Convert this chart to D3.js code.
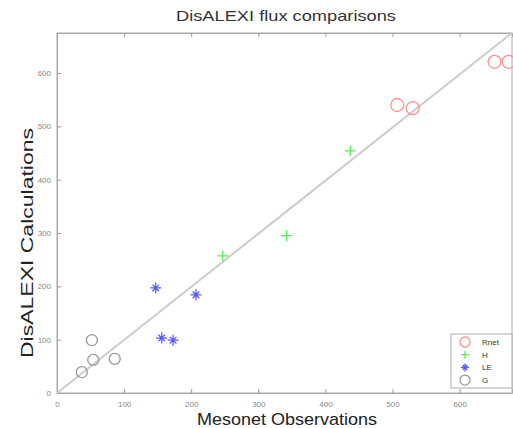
<!DOCTYPE html>
<html>
<head>
<meta charset="utf-8">
<title>DisALEXI flux comparisons</title>
<script src="https://d3js.org/d3.v7.min.js"></script>
<style>
  body { margin: 0; background: #fff; }
  text { font-family: "Liberation Sans", Arial, sans-serif; }
</style>
</head>
<body>
<svg id="chart" width="513" height="428"></svg>
<script>
// values (W/m2)
const rnetObs = [507, 530, 652, 673];
const rnetCalc = [540, 534, 621, 621];
const hObs = [247, 342, 437];
const hCalc = [257, 295, 454];
const leObs = [147, 207, 156, 173];
const leCalc = [197, 184, 103, 99];
const gObs = [52, 54, 37, 86];
const gCalc = [99, 62, 39, 64];
const tickVals = [0, 100, 200, 300, 400, 500, 600];
const legendNames = ["Rnet", "H", "LE", "G"];

const svg = d3.select("#chart");
const mLeft = 57, mRight = 512, mTop = 33, mBottom = 393;

const x = d3.scaleLinear().domain([0, 678]).range([mLeft, mRight]);
const y = d3.scaleLinear().domain([0, 675]).range([mBottom, mTop]);

// title
svg.append("text")
  .attr("x", 286).attr("y", 21)
  .attr("text-anchor", "middle")
  .attr("font-size", "15px").attr("fill", "#333")
  .attr("textLength", 220).attr("lengthAdjust", "spacingAndGlyphs")
  .text("DisALEXI flux comparisons");

// box
svg.append("rect")
  .attr("x", mLeft).attr("y", mTop)
  .attr("width", mRight - mLeft).attr("height", mBottom - mTop)
  .attr("fill", "none").attr("stroke", "#aaa");

// axes, matlab style ticks pointing in
const xAxis = d3.axisBottom(x).tickValues(tickVals).tickSize(-4).tickPadding(8);
const yAxis = d3.axisLeft(y).tickValues(tickVals).tickSize(-4).tickPadding(6);

svg.append("g").attr("transform", `translate(0,${mBottom})`).call(xAxis);
svg.append("g").attr("transform", `translate(${mLeft},0)`).call(yAxis);
svg.append("g").attr("transform", `translate(0,${mTop})`)
  .call(d3.axisTop(x).tickValues(tickVals).tickSize(-4).tickFormat(""));

svg.selectAll(".domain").attr("stroke", "#aaa");
svg.selectAll(".tick line").attr("stroke", "#999");
svg.selectAll(".tick text").attr("fill", "#888").attr("font-size", "8px");

// 1:1 line
svg.append("line")
  .attr("x1", x(0)).attr("y1", y(0))
  .attr("x2", x(678)).attr("y2", y(675))
  .attr("stroke", "#ccc").attr("stroke-width", 2);

// axis labels
svg.append("text")
  .attr("x", 287).attr("y", 425)
  .attr("text-anchor", "middle")
  .attr("font-size", "17px").attr("fill", "#222")
  .attr("textLength", 180).attr("lengthAdjust", "spacingAndGlyphs")
  .text("Mesonet Observations");

svg.append("text")
  .attr("transform", "translate(33,243) rotate(-90)")
  .attr("text-anchor", "middle")
  .attr("font-size", "17px").attr("fill", "#222")
  .attr("textLength", 230).attr("lengthAdjust", "spacingAndGlyphs")
  .text("DisALEXI Calculations");

// marker drawing
const red = "#ff9090", green = "#55ee55", blue = "#5a5aff", grey = "#999";

function circles(g, xs, ys, col, r) {
  g.selectAll(null).data(xs).enter().append("circle")
    .attr("cx", d => x(d)).attr("cy", (d, i) => y(ys[i]))
    .attr("r", r).attr("fill", "none").attr("stroke", col).attr("stroke-width", 1.3);
}
function plus(g, px, py, col, s) {
  g.append("path")
    .attr("d", `M${px - s},${py}H${px + s}M${px},${py - s}V${py + s}`)
    .attr("stroke", col).attr("stroke-width", 1.3).attr("fill", "none");
}
function star(g, px, py, col, s) {
  const d = s * 0.6;
  g.append("path")
    .attr("d", `M${px - s},${py}H${px + s}M${px},${py - s}V${py + s}` +
      `M${px - d},${py - d}L${px + d},${py + d}M${px - d},${py + d}L${px + d},${py - d}`)
    .attr("stroke", col).attr("stroke-width", 1.3).attr("fill", "none");
}

const marks = svg.append("g");
circles(marks, rnetObs, rnetCalc, red, 6.5);
hObs.forEach((d, i) => plus(marks, x(d), y(hCalc[i]), green, 5.5));
leObs.forEach((d, i) => star(marks, x(d), y(leCalc[i]), blue, 5.5));
circles(marks, gObs, gCalc, grey, 5.5);

// legend
const lg = svg.append("g");
lg.append("rect")
  .attr("x", 451).attr("y", 334).attr("width", 61).attr("height", 54)
  .attr("fill", "#fff").attr("stroke", "#aaa");
const cols = [red, green, blue, grey];
legendNames.forEach((name, i) => {
  const ly = 342 + i * 12.7, lx = 465;
  if (i === 0 || i === 3) {
    lg.append("circle").attr("cx", lx).attr("cy", ly).attr("r", 5)
      .attr("fill", "none").attr("stroke", cols[i]).attr("stroke-width", 1.3);
  } else if (i === 1) {
    plus(lg, lx, ly, cols[i], 4);
  } else {
    star(lg, lx, ly, cols[i], 4);
  }
  lg.append("text").attr("x", 482).attr("y", ly + 3)
    .attr("font-size", "8px").attr("fill", "#333").text(name);
});
</script>
</body>
</html>
